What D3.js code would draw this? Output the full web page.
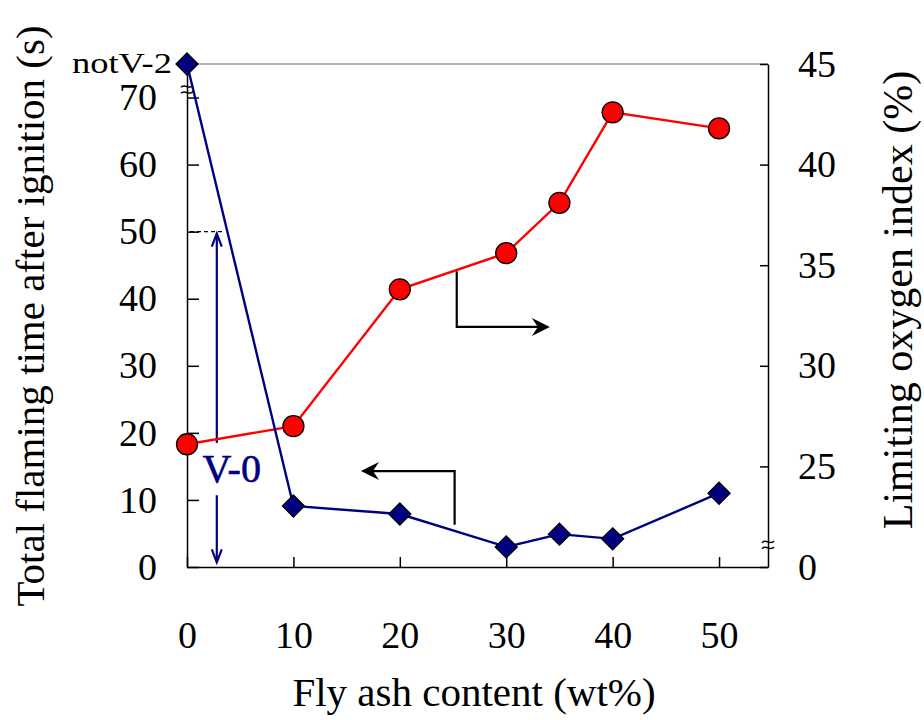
<!DOCTYPE html>
<html lang="en">
<head>
    <meta charset="UTF-8">
    <script src="https://d3js.org/d3.v7.min.js"></script>
    <style>
        body { margin: 0; background: #fff; }
        text { font-family: "Liberation Serif", "Times New Roman", serif; }
    </style>
</head>
<body>
<div id="chart"></div>
<script>
// fly ash content (wt%)
var flyAsh = [0, 10, 20, 30, 35, 40, 50];
// total flaming time after ignition (s); 75 stands for "notV-2"
var flameTime = [75, 9.1, 7.9, 3.0, 4.9, 4.2, 11.0];
// limiting oxygen index (%)
var loi = [26.1, 27.0, 33.8, 35.6, 38.1, 42.6, 41.8];

var xTicks = [0, 10, 20, 30, 40, 50];
var leftTicks = [0, 10, 20, 30, 40, 50, 60, 70];
var rightTicks = [20, 25, 30, 35, 40, 45];
var rightTickLabels = ["0", "25", "30", "35", "40", "45"];

var width = 924, height = 720;
var plotL = 187, plotR = 768, plotT = 64, plotB = 567;

var svg = d3.select("#chart").append("svg")
    .attr("width", width)
    .attr("height", height);

var x = d3.scaleLinear().domain([0, 54.6]).range([plotL, plotR]);
var yL = d3.scaleLinear().domain([0, 75]).range([plotB, plotT]);
var yR = d3.scaleLinear().domain([20, 45]).range([plotB, plotT]);

// top frame line (grey)
svg.append("line")
    .attr("x1", plotL).attr("x2", plotR)
    .attr("y1", plotT).attr("y2", plotT)
    .attr("stroke", "#999").attr("stroke-width", 1.5);

function styleAxis(g) {
    g.selectAll("path").attr("stroke", "#000").attr("stroke-width", 1.5);
    g.selectAll("line").attr("stroke", "#000").attr("stroke-width", 1.5);
    g.selectAll("text")
        .attr("font-family", "Liberation Serif, Times New Roman, serif")
        .attr("font-size", 38)
        .attr("fill", "#000");
}

svg.append("g")
    .attr("transform", "translate(" + plotL + ",0)")
    .call(d3.axisLeft(yL).tickValues(leftTicks).tickSize(-12).tickSizeOuter(0).tickPadding(30))
    .call(styleAxis);

svg.append("g")
    .attr("transform", "translate(0," + plotB + ")")
    .call(d3.axisBottom(x).tickValues(xTicks).tickSize(-10).tickSizeOuter(0).tickPadding(54))
    .call(styleAxis);

svg.append("g")
    .attr("transform", "translate(" + plotR + ",0)")
    .call(d3.axisRight(yR).tickValues(rightTicks).tickSize(-8).tickSizeOuter(0).tickPadding(30)
        .tickFormat(function (d, i) { return rightTickLabels[i]; }))
    .call(styleAxis);

// "notV-2" label at the top of the left axis
svg.append("text")
    .attr("x", plotL - 115).attr("y", yL(75))
    .attr("dy", "0.3em")
    .attr("font-size", 29)
    .attr("textLength", 100)
    .attr("lengthAdjust", "spacingAndGlyphs")
    .text("notV-2");

// axis break marks
function breakMark(cx, cy) {
    [-3, 3].forEach(function (o) {
        svg.append("path")
            .attr("d", "M" + (cx - 6) + "," + (cy + o + 1) +
                " C" + (cx - 3) + "," + (cy + o - 4) + " " + (cx + 3) + "," + (cy + o + 4) + " " + (cx + 6) + "," + (cy + o - 1))
            .attr("fill", "none").attr("stroke", "#000").attr("stroke-width", 1.5);
    });
}
breakMark(plotL, yL(71.2));
breakMark(plotR, yR(21.1));

// axis titles
svg.append("text")
    .attr("transform", "translate(44," + 316 + ") rotate(-90)")
    .attr("text-anchor", "middle")
    .attr("font-size", 41)
    .text("Total flaming time after ignition (s)");

svg.append("text")
    .attr("transform", "translate(912," + 300 + ") rotate(-90)")
    .attr("text-anchor", "middle")
    .attr("font-size", 42)
    .text("Limiting oxygen index (%)");

svg.append("text")
    .attr("x", 474).attr("y", 706)
    .attr("text-anchor", "middle")
    .attr("font-size", 41)
    .text("Fly ash content (wt%)");

// V-0 annotation
var navy = "#000080";
svg.append("line")
    .attr("x1", plotL + 3).attr("x2", x(3.3))
    .attr("y1", yL(50)).attr("y2", yL(50))
    .attr("stroke", "#000").attr("stroke-width", 1.2)
    .attr("stroke-dasharray", "4,3");

var ax = x(2.8);
svg.append("line")
    .attr("x1", ax).attr("x2", ax)
    .attr("y1", yL(49.7)).attr("y2", yL(18.5))
    .attr("stroke", navy).attr("stroke-width", 2.2);
svg.append("line")
    .attr("x1", ax).attr("x2", ax)
    .attr("y1", yL(10.7)).attr("y2", yL(0.7))
    .attr("stroke", navy).attr("stroke-width", 2.2);
function chevron(px, py, dir) {
    svg.append("path")
        .attr("d", "M" + (px - 5) + "," + (py + dir * 13) + " L" + px + "," + py + " L" + (px + 5) + "," + (py + dir * 13))
        .attr("fill", "none").attr("stroke", navy).attr("stroke-width", 2.2);
}
chevron(ax, yL(49.7), 1);
chevron(ax, yL(0.7), -1);
svg.append("text")
    .attr("x", x(4.2)).attr("y", yL(12.6))
    .attr("text-anchor", "middle")
    .attr("font-size", 40)
    .attr("fill", navy)
    .attr("stroke", navy).attr("stroke-width", 0.6)
    .text("V-0");

// direction arrows
function arrowHead(px, py, dir) {
    svg.append("path")
        .attr("d", "M" + px + "," + py +
            " L" + (px - dir * 18) + "," + (py - 9) +
            " L" + (px - dir * 12) + "," + py +
            " L" + (px - dir * 18) + "," + (py + 9) + " Z")
        .attr("fill", "#000");
}
var a1x = x(25.35), a1y0 = yR(34.7), a1y1 = yR(31.93), a1x2 = x(34.1);
svg.append("path")
    .attr("d", "M" + a1x + "," + a1y0 + " L" + a1x + "," + a1y1 + " L" + (a1x2 - 8) + "," + a1y1)
    .attr("fill", "none").attr("stroke", "#000").attr("stroke-width", 2.2);
arrowHead(a1x2, a1y1, 1);

var a2x = x(25.15), a2y0 = yL(6.3), a2y1 = yL(14.3), a2x2 = x(16.35);
svg.append("path")
    .attr("d", "M" + a2x + "," + a2y0 + " L" + a2x + "," + a2y1 + " L" + (a2x2 + 8) + "," + a2y1)
    .attr("fill", "none").attr("stroke", "#000").attr("stroke-width", 2.2);
arrowHead(a2x2, a2y1, -1);

// LOI series (right axis)
var loiData = flyAsh.map(function (f, i) { return { x: f, y: loi[i] }; });
svg.append("path")
    .datum(loiData)
    .attr("d", d3.line().x(function (d) { return x(d.x); }).y(function (d) { return yR(d.y); }))
    .attr("fill", "none").attr("stroke", "#ff0000").attr("stroke-width", 2.4);

// flaming time series (left axis)
var ftData = flyAsh.map(function (f, i) { return { x: f, y: flameTime[i] }; });
svg.append("path")
    .datum(ftData)
    .attr("d", d3.line().x(function (d) { return x(d.x); }).y(function (d) { return yL(d.y); }))
    .attr("fill", "none").attr("stroke", navy).attr("stroke-width", 2.4);

svg.selectAll("circle.loi")
    .data(loiData)
    .enter()
    .append("circle")
    .attr("class", "loi")
    .attr("cx", function (d) { return x(d.x); })
    .attr("cy", function (d) { return yR(d.y); })
    .attr("r", 10.5)
    .attr("fill", "#ff0000")
    .attr("stroke", "#000").attr("stroke-width", 1.3);

svg.selectAll("path.ft")
    .data(ftData)
    .enter()
    .append("path")
    .attr("class", "ft")
    .attr("transform", function (d) { return "translate(" + x(d.x) + "," + yL(d.y) + ")"; })
    .attr("d", "M0,-11 L11,0 L0,11 L-11,0 Z")
    .attr("fill", navy)
    .attr("stroke", "#000").attr("stroke-width", 1.3);
</script>
</body>
</html>
